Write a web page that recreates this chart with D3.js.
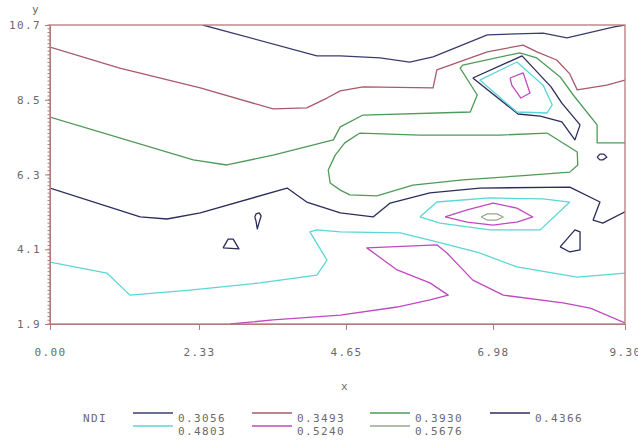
<!DOCTYPE html>
<html>
<head>
<meta charset="utf-8">
<script src="https://cdn.jsdelivr.net/npm/d3@7"></script>
<style>
  body { margin: 0; background: #fff; }
  text { font-family: "DejaVu Sans Mono", "Liberation Mono", monospace; fill: #6a6a6a; letter-spacing: 1.4px; }
</style>
</head>
<body>
<svg id="chart" width="638" height="440"></svg>
<script>
// contour levels of NDI and the line colour for each
var levels = ["0.3056", "0.3493", "0.3930", "0.4366", "0.4803", "0.5240", "0.5676"];
var levelColors = ["#3c3c6c", "#a85a68", "#4f9a58", "#2c2c5c", "#5ad6d6", "#c048c0", "#98a890"];

var xTicks = [0, 2.33, 4.65, 6.98, 9.30];
var xTickLabels = ["0.00", "2.33", "4.65", "6.98", "9.30"];
var yTicks = [1.9, 4.1, 6.3, 8.5, 10.7];
var yTickLabels = ["1.9", "4.1", "6.3", "8.5", "10.7"];

// contour lines, [x, y] pairs
var lv3056_top = [[2.39,10.70],[4.19,9.79],[4.56,9.79],[5.19,9.73],[5.66,9.61],[6.03,9.76],[6.89,10.41],[7.86,10.46],[8.28,10.32],[9.09,10.64],[9.30,10.70]];

var lv3493_top = [[0.00,10.05],[1.09,9.43],[2.35,8.85],[3.50,8.23],[4.03,8.26],[4.35,8.55],[4.56,8.76],[4.92,8.88],[6.03,8.85],[6.09,9.38],[6.89,9.91],[7.51,10.11],[7.75,9.91],[8.10,9.67],[8.33,9.26],[8.46,8.79],[8.98,8.93],[9.30,9.08]];

var lv3930_across = [[0.00,7.99],[2.24,6.73],[2.77,6.58],[3.50,6.87],[4.45,7.32],[4.56,7.70],[4.92,8.05],[6.62,8.14],[6.73,8.64],[6.46,9.43],[6.50,9.52],[7.45,9.88],[7.75,9.73],[8.16,9.17],[8.39,8.64],[8.81,7.76],[8.81,7.23],[9.30,7.23]];
var lv3930_loop = [[4.87,7.52],[4.63,7.23],[4.48,6.87],[4.37,6.43],[4.40,6.05],[4.56,5.84],[4.71,5.70],[5.14,5.67],[5.71,5.99],[6.50,6.14],[7.45,6.26],[8.33,6.37],[8.47,6.58],[8.46,6.96],[7.93,7.52],[7.10,7.46],[5.82,7.46],[4.87,7.52]];

var lv4366_across = [[0.00,5.90],[1.41,5.05],[1.83,4.99],[2.35,5.17],[3.72,5.90],[4.03,5.49],[4.56,5.17],[5.08,5.05],[5.35,5.46],[5.98,5.76],[6.77,5.90],[8.33,5.93],[8.86,5.49],[8.74,4.96],[8.91,4.87],[9.30,5.20]];
var lv4366_peak = [[6.66,9.14],[7.49,9.79],[8.00,8.88],[8.19,8.40],[8.51,7.76],[8.42,7.32],[8.19,7.85],[7.81,8.02],[7.42,8.08],[6.66,9.14]];
var lv4366_ring = [[8.81,6.81],[8.86,6.90],[8.93,6.90],[8.98,6.81],[8.91,6.73],[8.86,6.73],[8.81,6.81]];
var lv4366_wedge = [[8.16,4.17],[8.42,4.67],[8.51,4.61],[8.51,4.08],[8.33,4.02],[8.16,4.17]];
var lv4366_tri = [[2.71,4.14],[2.79,4.40],[2.87,4.40],[2.96,4.11],[2.71,4.14]];
var lv4366_drop = [[3.21,5.05],[3.23,5.14],[3.28,5.17],[3.31,5.08],[3.28,4.90],[3.25,4.70],[3.23,4.93],[3.21,5.05]];

var lv4803_across = [[0.00,3.72],[0.89,3.40],[1.25,2.75],[2.19,2.90],[3.29,3.11],[4.19,3.34],[4.35,3.78],[4.08,4.61],[4.19,4.67],[4.56,4.61],[5.51,4.58],[5.98,4.37],[6.77,3.99],[7.40,3.58],[8.46,3.28],[9.30,3.40]];
var lv4803_peak = [[6.77,9.08],[7.40,9.61],[7.86,8.93],[8.02,8.35],[7.93,8.11],[7.40,8.14],[6.77,9.08]];
var lv4803_mid = [[5.82,5.05],[6.09,5.49],[6.93,5.61],[7.86,5.58],[8.33,5.49],[7.81,4.67],[6.93,4.67],[6.14,4.87],[5.82,5.05]];

var lv5240_low = [[2.82,1.90],[3.50,2.02],[4.56,2.16],[5.46,2.40],[5.98,2.61],[6.27,2.75],[5.98,3.11],[5.46,3.49],[4.98,4.14],[6.09,4.23],[6.25,3.99],[6.66,3.19],[7.16,2.75],[8.21,2.52],[8.69,2.37],[9.30,1.93]];
var lv5240_peak = [[7.28,9.14],[7.51,9.29],[7.63,8.70],[7.47,8.55],[7.31,8.93],[7.28,9.14]];
var lv5240_mid = [[6.22,5.05],[6.57,5.26],[6.98,5.46],[7.40,5.31],[7.68,5.05],[7.40,4.90],[6.98,4.81],[6.57,4.90],[6.22,5.05]];

var lv5676_mid = [[6.79,5.05],[6.89,5.14],[7.05,5.14],[7.16,5.05],[7.05,4.96],[6.89,4.96],[6.79,5.05]];

var contours = [
    {level: 0, pts: lv3056_top},
    {level: 1, pts: lv3493_top},
    {level: 2, pts: lv3930_across},
    {level: 2, pts: lv3930_loop},
    {level: 3, pts: lv4366_across},
    {level: 3, pts: lv4366_peak},
    {level: 3, pts: lv4366_ring},
    {level: 3, pts: lv4366_wedge},
    {level: 3, pts: lv4366_tri},
    {level: 3, pts: lv4366_drop},
    {level: 4, pts: lv4803_across},
    {level: 4, pts: lv4803_peak},
    {level: 4, pts: lv4803_mid},
    {level: 5, pts: lv5240_low},
    {level: 5, pts: lv5240_peak},
    {level: 5, pts: lv5240_mid},
    {level: 6, pts: lv5676_mid}
];

var svg = d3.select("#chart");
var plotLeft = 50, plotRight = 625, plotTop = 25, plotBottom = 324;
var frameColor = "#b47a7a";

// the tick marks in the picture are not evenly spread, so map each labelled value
var x = d3.scaleLinear().domain(xTicks).range([50, 199, 346, 493, 625]);
var y = d3.scaleLinear().domain([1.9, 10.7]).range([plotBottom, plotTop]);

svg.append("clipPath").attr("id", "plotclip")
    .append("rect").attr("x", plotLeft).attr("y", plotTop)
    .attr("width", plotRight - plotLeft).attr("height", plotBottom - plotTop);

var line = d3.line()
    .x(function(d){ return x(d[0]); })
    .y(function(d){ return y(d[1]); });

svg.append("g").attr("clip-path", "url(#plotclip)")
    .selectAll("path").data(contours).enter()
    .append("path")
    .attr("d", function(d){ return line(d.pts); })
    .attr("fill", "none")
    .attr("stroke", function(d){ return levelColors[d.level]; })
    .attr("stroke-width", 1.3)
    .attr("stroke-linejoin", "round");

// frame
svg.append("rect")
    .attr("x", plotLeft).attr("y", plotTop)
    .attr("width", plotRight - plotLeft).attr("height", plotBottom - plotTop)
    .attr("fill", "none").attr("stroke", frameColor).attr("stroke-width", 1.3);

// left axis with minor ticks
var yAxis = d3.axisLeft(y).tickValues(yTicks)
    .tickFormat(function(d, i){ return yTickLabels[i]; })
    .tickSize(5).tickPadding(4);
var gy = svg.append("g").attr("transform", "translate(" + plotLeft + ",0)").call(yAxis);
gy.select(".domain").attr("stroke", frameColor);
gy.selectAll(".tick line").attr("stroke", frameColor);
gy.selectAll(".tick text").style("font-size", "11px").attr("fill", "#6a6a6a");

var minor = d3.range(0, 81).map(function(i){ return 1.9 + i * 0.11; });
svg.append("g").selectAll("line").data(minor).enter()
    .append("line")
    .attr("x1", plotLeft - 2.5).attr("x2", plotLeft)
    .attr("y1", function(d){ return y(d); }).attr("y2", function(d){ return y(d); })
    .attr("stroke", frameColor).attr("stroke-width", 1);

// bottom axis
var xAxis = d3.axisBottom(x).tickValues(xTicks)
    .tickFormat(function(d, i){ return xTickLabels[i]; })
    .tickSize(6).tickPadding(18);
var gx = svg.append("g").attr("transform", "translate(0," + plotBottom + ")").call(xAxis);
gx.select(".domain").attr("stroke", frameColor);
gx.selectAll(".tick line").attr("stroke", frameColor);
gx.selectAll(".tick text").style("font-size", "11px").attr("fill", "#6a6a6a");

svg.append("text").attr("x", 345).attr("y", 390).attr("text-anchor", "middle")
    .style("font-size", "11px").attr("fill", "#6a6a6a").text("x");
svg.append("text").attr("x", 36).attr("y", 13).attr("text-anchor", "middle")
    .style("font-size", "11px").attr("fill", "#6a6a6a").text("y");

// legend
var legend = svg.append("g");
legend.append("text").attr("x", 83).attr("y", 422).style("font-size", "11px")
    .attr("fill", "#6a6a6a").text("NDI");
var colX = [133, 252, 370, 490];
var item = legend.selectAll("g.item").data(levels).enter()
    .append("g").attr("class", "item")
    .attr("transform", function(d, i){
        return "translate(" + colX[i % 4] + "," + (413 + Math.floor(i / 4) * 13) + ")";
    });
item.append("line").attr("x1", 0).attr("x2", 40).attr("y1", 0).attr("y2", 0)
    .attr("stroke", function(d, i){ return levelColors[i]; }).attr("stroke-width", 1.3);
item.append("text").attr("x", 45).attr("y", 9).style("font-size", "11px")
    .attr("fill", "#6a6a6a").text(function(d){ return d; });
</script>
</body>
</html>
